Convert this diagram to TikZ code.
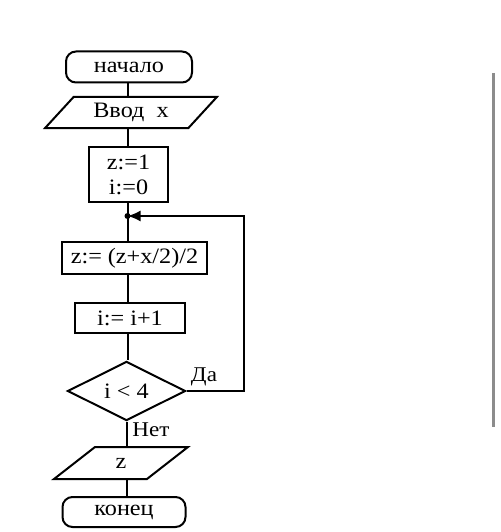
\documentclass[tikz,border=0pt]{standalone}
\usepackage{fontspec}
\setmainfont{Liberation Serif}[FakeStretch=1.1]
\usetikzlibrary{shapes.geometric,arrows.meta,calc}
\begin{document}
\begin{tikzpicture}[x=1pt,y=-1pt,line width=2pt,
  every node/.style={font=\fontsize{22}{24}\selectfont, inner sep=0pt},
  term/.style={draw, rounded corners=10pt, minimum width=#1, minimum height=31pt},
  proc/.style={draw, rectangle, minimum width=#1, minimum height=31pt},
  iobox/.style={draw, trapezium, trapezium stretches=true, trapezium left angle=#1, trapezium right angle=180-#1, minimum height=31pt},
  decbox/.style={draw, diamond, minimum width=118pt, minimum height=58pt},
  flow/.style={line width=2pt},
  lbl/.style={font=\fontsize{21}{23}\selectfont}]
\useasboundingbox (0,0) rectangle (500,532);
% nodes
\node[term=126pt] (start) at (129,67) {начало};
\node[iobox=45, minimum width=172pt] (in) at (131,112.5) {Ввод\ \ x};
\node[proc=79pt, minimum height=55pt, align=center] (init) at (128.5,174.5) {z:=1\\[1pt]i:=0};
\coordinate (j) at (127.5,216);
\node[proc=145pt, minimum height=32pt] (calc) at (134.5,258) {z:= (z+x/2)/2};
\node[proc=110pt, minimum height=30pt] (inc) at (130,318) {i:= i+1};
\node[decbox] (dec) at (126.5,391) {i < 4};
\node[iobox=50, minimum width=134pt, minimum height=32pt] (out) at (121,463) {z};
\node[term=123pt, minimum height=30pt] (end) at (124,512) {конец};
\coordinate (corner) at (244,216);
% labels
\node[lbl] (yes) at (204,377) {Да};
\node[lbl] (no) at (151,430) {Нет};
% connectors
\draw[flow] (start.south -| j) -- (in.north -| j);
\draw[flow] (in.south -| j) -- (init.north -| j);
\draw[flow] (init.south -| j) -- (calc.north -| j);
\draw[flow] (calc.south -| j) -- (inc.north -| j);
\draw[flow] (inc.south -| j) -- (dec.north -| j);
\draw[flow] (dec.south) -- (out.north -| dec.south);
\draw[flow] (out.south -| dec.south) -- (end.north -| dec.south);
\draw[flow, -{Latex[length=13pt,width=11pt]}] (dec.east) -| (corner) -- (j);
\fill (j) circle (3pt);
% scan edge line
\draw[line width=3pt, gray!90] (493,73) -- (493,427);
\end{tikzpicture}
\end{document}
